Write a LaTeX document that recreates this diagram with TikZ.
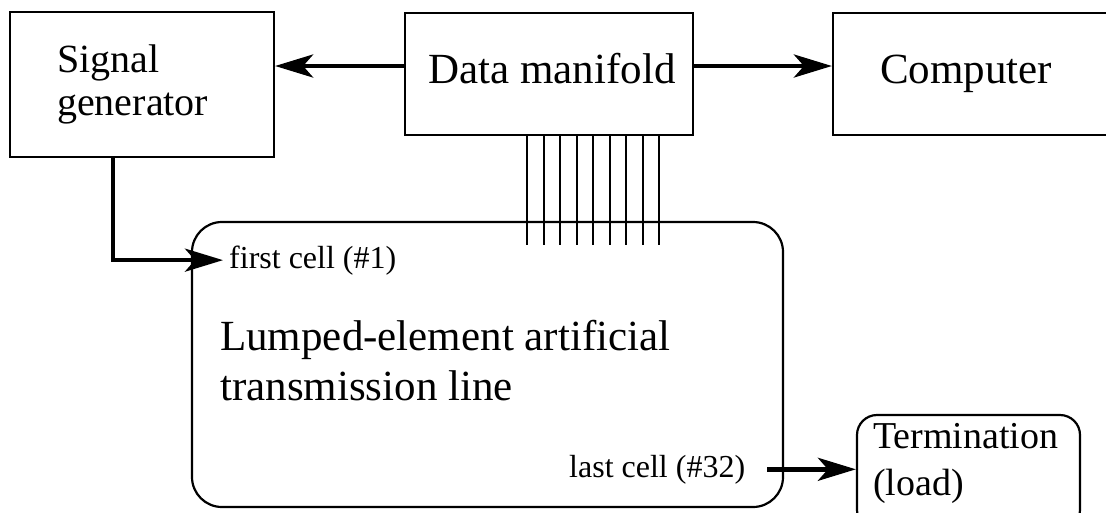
\documentclass[tikz,border=0pt]{standalone}
\usepackage{fontspec}
\setmainfont{Liberation Serif}
\usetikzlibrary{arrows.meta,calc}

\begin{document}
\begin{tikzpicture}[x=1pt,y=-1pt,
  box/.style={draw=black,line width=2.2pt,inner sep=0pt,minimum width=#1},
  bigtext/.style={inner sep=0pt,font=\fontsize{43}{51}\selectfont},
  sigtext/.style={inner sep=0pt,font=\fontsize{40}{48}\selectfont},
  midtext/.style={inner sep=0pt,font=\fontsize{38}{46}\selectfont},
  smalltext/.style={inner sep=0pt,font=\fontsize{32}{38}\selectfont},
  arr/.style={line width=4.5pt,-{Stealth[length=38pt,width=23pt,inset=10pt]}},
  wire/.style={line width=2pt}]
  \clip (0,0) rectangle (1106,512);
  \fill[white] (0,0) rectangle (1106,512);

  % blocks
  \node[box=264pt,minimum height=145pt] (sig) at (142,84.5) {};
  \node[box=288pt,minimum height=122pt] (dm) at (549,74) {};
  \node[box=287pt,minimum height=122pt] (comp) at (976.5,74) {};
  \node[draw=black,line width=2.2pt,rounded corners=30pt,inner sep=0pt,
        minimum width=591pt,minimum height=285pt] (tl) at (487.5,364.5) {};
  \node[draw=black,line width=2.2pt,rounded corners=20pt,inner sep=0pt,
        minimum width=223pt,minimum height=115pt] (term) at (968.5,472.5) {};

  % labels
  \node[sigtext,anchor=base west] (sigA) at (57,72) {Signal};
  \node[sigtext,anchor=base west] (sigB) at (57,115) {generator};
  \node[bigtext,anchor=base] (dmt) at (552,83) {Data manifold};
  \node[bigtext,anchor=base west] (compt) at (880,83) {Computer};
  \node[bigtext,anchor=base west] (tlA) at (220,350) {Lumped-element artificial};
  \node[bigtext,anchor=base west] (tlB) at (220,400) {transmission line};
  \node[smalltext,anchor=base west] (fc) at (229,268) {first cell (\#1)};
  \node[smalltext,anchor=base west] (lc) at (569,477) {last cell (\#32)};
  \node[midtext,anchor=base west] (termA) at (873,448) {Termination};
  \node[midtext,anchor=base west] (termB) at (873,495) {(load)};

  % data bus from the manifold into the line
  \foreach \i in {0,...,8}
    \draw[wire] ([xshift={(-22+16.5*\i)*1pt}]dm.south) -- ++(0,109);

  % connectors
  \coordinate (a1) at ([yshift=8pt]dm.west);
  \coordinate (a2) at ([yshift=8pt]dm.east);
  \draw[arr] (a1) -- (a1 -| sig.east);
  \draw[arr] (a2) -- (a2 -| comp.west);
  \draw[arr] ([xshift=-29pt]sig.south) |- ([xshift=-6pt]fc.west);
  \coordinate (l1) at ([xshift=22pt]lc.east);
  \draw[arr] (l1) -- (l1 -| term.west);
\end{tikzpicture}
\end{document}
